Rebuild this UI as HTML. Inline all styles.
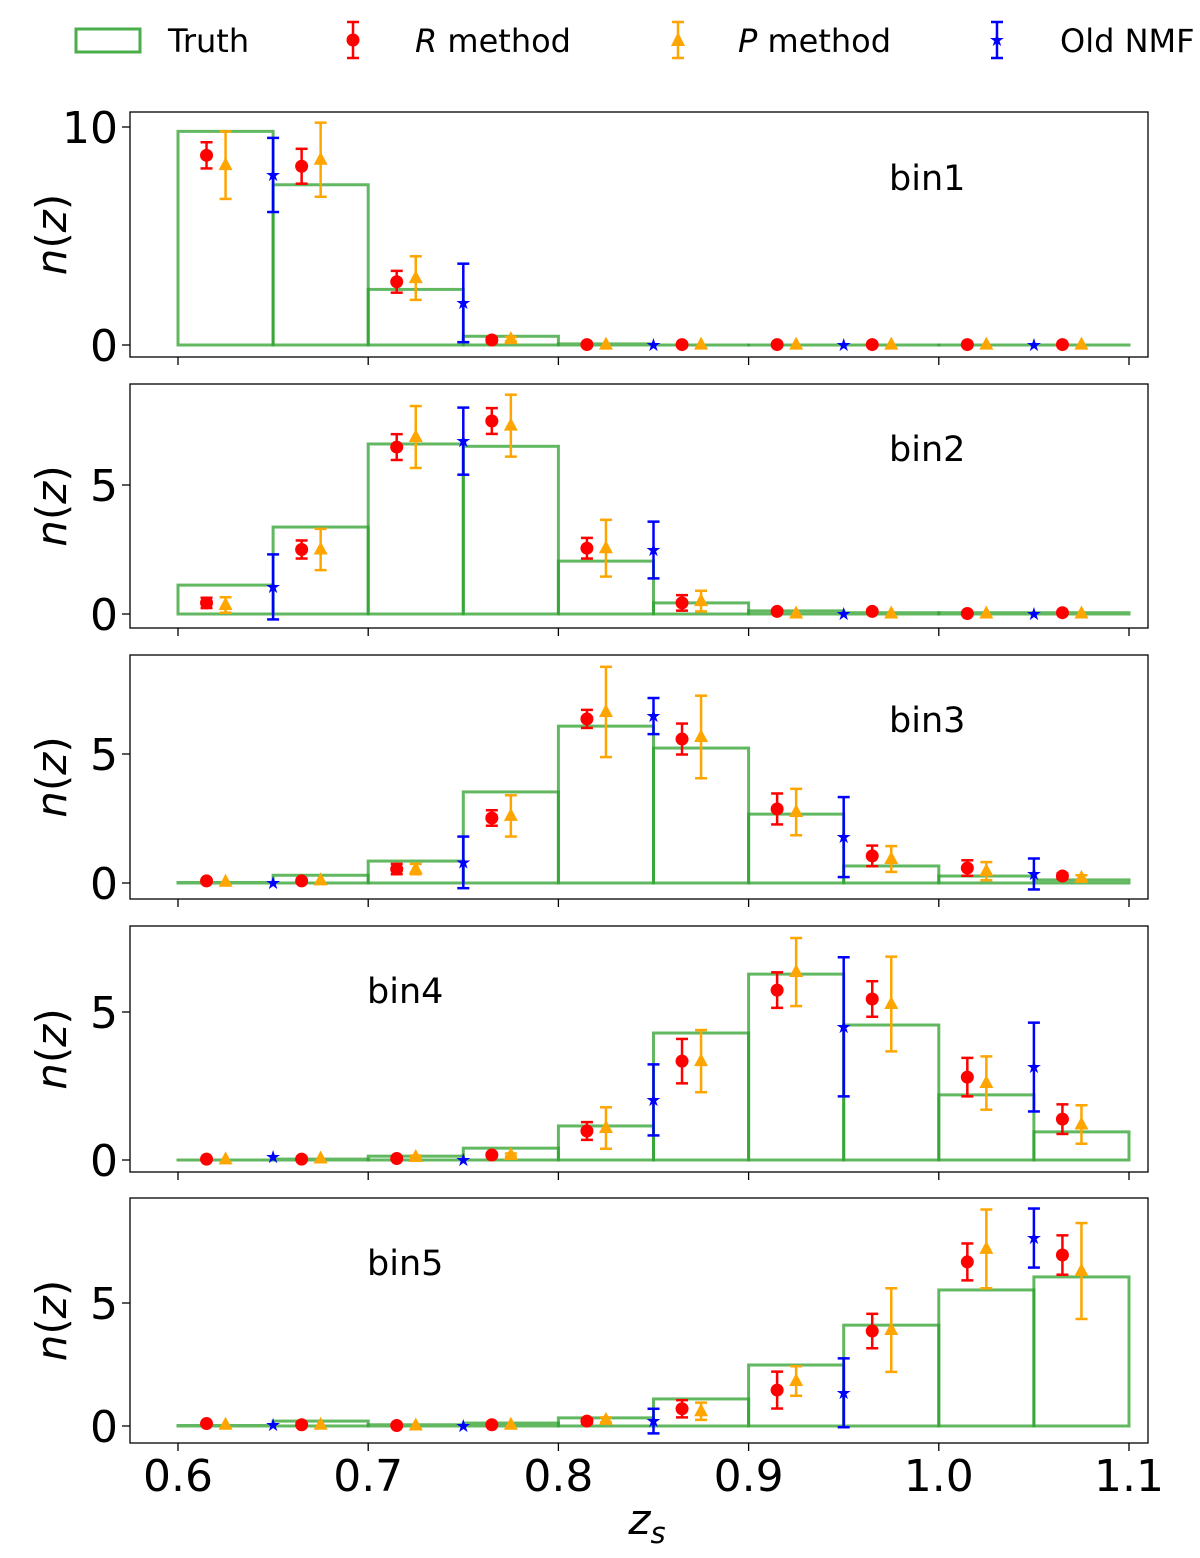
<!DOCTYPE html>
<html><head><meta charset="utf-8"><style>
body{margin:0;background:#fff;}
svg text{font-family:"DejaVu Sans","Liberation Sans",sans-serif;fill:#000;}
</style></head><body>
<svg id="chart" width="1200" height="1553" viewBox="0 0 1200 1553" xmlns="http://www.w3.org/2000/svg">
<g id="legend">
  <g>
    <rect x="76" y="29" width="64" height="23" fill="none" stroke="#2ca02c" stroke-opacity="0.85" stroke-width="3"/>
    <text x="168" y="52" font-size="32">Truth</text>
  </g>
  <g>
    <line x1="353" y1="22" x2="353" y2="58" stroke="red" stroke-width="2.5"/>
    <line x1="347" y1="22" x2="359" y2="22" stroke="red" stroke-width="2.5"/>
    <line x1="347" y1="58" x2="359" y2="58" stroke="red" stroke-width="2.5"/>
    <circle cx="353" cy="40" r="6.5" fill="red"/>
    <text x="415" y="52" font-size="32"><tspan font-style="italic">R</tspan> method</text>
  </g>
  <g>
    <line x1="678" y1="22" x2="678" y2="58" stroke="orange" stroke-width="2.5"/>
    <line x1="672" y1="22" x2="684" y2="22" stroke="orange" stroke-width="2.5"/>
    <line x1="672" y1="58" x2="684" y2="58" stroke="orange" stroke-width="2.5"/>
    <polygon points="678,32 685,46 671,46" fill="orange"/>
    <text x="738" y="52" font-size="32"><tspan font-style="italic">P</tspan> method</text>
  </g>
  <g>
    <line x1="997" y1="22" x2="997" y2="58" stroke="blue" stroke-width="2.5"/>
    <line x1="991" y1="22" x2="1003" y2="22" stroke="blue" stroke-width="2.5"/>
    <line x1="991" y1="58" x2="1003" y2="58" stroke="blue" stroke-width="2.5"/>
    <text x="997" y="46" font-size="18" text-anchor="middle" style="fill:blue">★</text>
    <text x="1060" y="52" font-size="32">Old NMF</text>
  </g>
</g>
<text x="647" y="1534" font-size="42" font-style="italic" text-anchor="middle">z<tspan font-size="29" dy="9">s</tspan></text>
</svg>
<script>
const binEdges=[0.6,0.65,0.7,0.75,0.8,0.85,0.9,0.95,1.0,1.05,1.1];
const rX=[0.615,0.665,0.715,0.765,0.815,0.865,0.915,0.965,1.015,1.065];
const pX=[0.625,0.675,0.725,0.775,0.825,0.875,0.925,0.975,1.025,1.075];
const nX=[0.65,0.75,0.85,0.95,1.05];
const xTicks=[0.6,0.7,0.8,0.9,1.0,1.1];
const xTickLabels=["0.6","0.7","0.8","0.9","1.0","1.1"];
const binNames=["bin1","bin2","bin3","bin4","bin5"];
const truth1=[9.8,7.35,2.55,0.4,0.05,0,0,0,0,0];
const truth2=[1.12,3.37,6.59,6.5,2.05,0.43,0.12,0.05,0.05,0.05];
const truth3=[0.02,0.3,0.85,3.53,6.08,5.23,2.67,0.66,0.27,0.12];
const truth4=[0,0.03,0.13,0.4,1.15,4.29,6.28,4.56,2.2,0.95];
const truth5=[0.02,0.2,0.05,0.12,0.33,1.1,2.48,4.1,5.53,6.06];
const r1=[8.7,8.2,2.9,0.23,0.02,0.02,0.02,0.02,0.02,0.02];
const r1e=[0.6,0.8,0.5,0.1,0,0,0,0,0,0];
const r2=[0.43,2.5,6.47,7.48,2.55,0.43,0.1,0.1,0.02,0.05];
const r2e=[0.2,0.35,0.5,0.5,0.4,0.3,0.05,0.05,0,0];
const r3=[0.08,0.08,0.54,2.52,6.36,5.58,2.87,1.05,0.58,0.27];
const r3e=[0,0,0.2,0.3,0.35,0.6,0.6,0.4,0.3,0.1];
const r4=[0.03,0.03,0.05,0.17,0.98,3.34,5.74,5.44,2.8,1.38];
const r4e=[0,0,0,0.05,0.3,0.75,0.6,0.6,0.65,0.5];
const r5=[0.1,0.05,0.02,0.05,0.2,0.7,1.46,3.86,6.67,6.95];
const r5e=[0,0,0,0,0.1,0.35,0.75,0.7,0.75,0.8];
const p1=[8.25,8.5,3.07,0.27,0.02,0.02,0.02,0.02,0.02,0.02];
const p1e=[1.55,1.7,1.0,0.1,0,0,0,0,0,0];
const p2=[0.35,2.5,6.86,7.3,2.55,0.5,0.02,0.02,0.02,0.02];
const p2e=[0.3,0.8,1.2,1.2,1.1,0.4,0,0,0,0];
const p3=[0.05,0.1,0.54,2.6,6.63,5.66,2.75,0.93,0.46,0.2];
const p3e=[0,0,0.2,0.8,1.75,1.6,0.9,0.5,0.35,0.1];
const p4=[0.02,0.05,0.1,0.17,1.08,3.34,6.35,5.27,2.6,1.2];
const p4e=[0,0,0.05,0.05,0.7,1.05,1.15,1.6,0.9,0.65];
const p5=[0.05,0.05,0.02,0.05,0.25,0.6,1.83,3.9,7.2,6.3];
const p5e=[0,0,0,0,0.1,0.35,0.6,1.7,1.6,1.95];
const n1=[7.8,1.93,0,0,0];
const n1e=[1.7,1.8,0,0,0];
const n2=[1.05,6.7,2.48,0,0];
const n2e=[1.26,1.3,1.1,0,0];
const n3=[0,0.8,6.47,1.78,0.35];
const n3e=[0,1.0,0.7,1.55,0.6];
const n4=[0.1,0,2.03,4.5,3.14];
const n4e=[0,0,1.2,2.35,1.5];
const n5=[0.05,0,0.2,1.35,7.64];
const n5e=[0,0,0.5,1.4,1.2];
const yTicks1=[0,10], yTicks2=[0,5], yTicks3=[0,5], yTicks4=[0,5], yTicks5=[0,5];

const panels=[
 {top:112,bot:357,y0:345,ppu:21.8,t:truth1,r:r1,re:r1e,p:p1,pe:p1e,n:n1,ne:n1e,yt:yTicks1,lx:889,ly:190},
 {top:384,bot:628,y0:614,ppu:25.8,t:truth2,r:r2,re:r2e,p:p2,pe:p2e,n:n2,ne:n2e,yt:yTicks2,lx:889,ly:461},
 {top:655,bot:899,y0:883,ppu:25.8,t:truth3,r:r3,re:r3e,p:p3,pe:p3e,n:n3,ne:n3e,yt:yTicks3,lx:889,ly:732},
 {top:926,bot:1172,y0:1160,ppu:29.6,t:truth4,r:r4,re:r4e,p:p4,pe:p4e,n:n4,ne:n4e,yt:yTicks4,lx:367,ly:1003},
 {top:1198,bot:1443,y0:1426,ppu:24.6,t:truth5,r:r5,re:r5e,p:p5,pe:p5e,n:n5,ne:n5e,yt:yTicks5,lx:367,ly:1275}
];
const NS="http://www.w3.org/2000/svg";
const svg=document.getElementById('chart');
const X=v=>178+(v-0.6)*1902;
function mk(tag,attrs,parent){const e=document.createElementNS(NS,tag);for(const k in attrs)e.setAttribute(k,attrs[k]);parent.appendChild(e);return e;}
function ebar(g,x,y,e,col,yS){
  if(e<=0)return;
  const a=yS(y+e),b=yS(y-e);
  mk('line',{x1:x,y1:a,x2:x,y2:b,stroke:col,'stroke-width':2.5},g);
  mk('line',{x1:x-6,y1:a,x2:x+6,y2:a,stroke:col,'stroke-width':2.5},g);
  mk('line',{x1:x-6,y1:b,x2:x+6,y2:b,stroke:col,'stroke-width':2.5},g);
}
panels.forEach((P,i)=>{
  const yS=v=>P.y0-v*P.ppu;
  const g=mk('g',{},svg);
  
  
  P.t.forEach((v,k)=>{
    const x1=X(binEdges[k]),x2=X(binEdges[k+1]);
    const r=mk('rect',{x:x1,y:yS(v),width:x2-x1,height:Math.max(P.y0-yS(v),0.01),fill:'none',stroke:'#2ca02c','stroke-opacity':0.75,'stroke-width':3},g);
    
    
  });
  P.r.forEach((v,k)=>{
    const x=X(rX[k]);
    const gg=mk('g',{},g);
    
    
    ebar(gg,x,v,P.re[k],'red',yS);
    mk('circle',{cx:x,cy:yS(v),r:6.5,fill:'red'},gg);
  });
  P.p.forEach((v,k)=>{
    const x=X(pX[k]),y=yS(v);
    const gg=mk('g',{},g);
    
    
    ebar(gg,x,v,P.pe[k],'orange',yS);
    mk('polygon',{points:`${x},${y-8} ${x+7},${y+5} ${x-7},${y+5}`,fill:'orange'},gg);
  });
  P.n.forEach((v,k)=>{
    const x=X(nX[k]),y=yS(v);
    const gg=mk('g',{},g);
    
    
    ebar(gg,x,v,P.ne[k],'blue',yS);
    const t=mk('text',{x:x,y:y+6,'font-size':18,'text-anchor':'middle',style:'fill:blue'},gg);
    t.textContent='★';
  });
  const fr=mk('rect',{x:130,y:P.top,width:1018,height:P.bot-P.top,fill:'none',stroke:'#000','stroke-width':1.3},g);
  
  
  P.yt.forEach(v=>{
    const y=yS(v);
    mk('line',{x1:122,y1:y,x2:130,y2:y,stroke:'#000','stroke-width':1.3},g);
    const t=mk('text',{x:118,y:y+16,'font-size':44,'text-anchor':'end'},g);
    
    
    t.textContent=String(v);
  });
  xTicks.forEach((v,k)=>{
    const x=X(v);
    mk('line',{x1:x,y1:P.bot,x2:x,y2:P.bot+8,stroke:'#000','stroke-width':1.3},g);
    if(i===4){
      const t=mk('text',{x:x,y:1491,'font-size':44,'text-anchor':'middle'},g);
      
      
      t.textContent=xTickLabels[k];
    }
  });
  const cy=(P.top+P.bot)/2;
  const yl=mk('text',{x:0,y:0,'font-size':42,'text-anchor':'middle',transform:`translate(66,${cy}) rotate(-90)`},g);
  
  
  yl.innerHTML='<tspan font-style="italic">n</tspan>(<tspan font-style="italic">z</tspan>)';
  const bl=mk('text',{x:P.lx,y:P.ly,'font-size':35},g);
  
  
  bl.textContent=binNames[i];
});
</script>
</body></html>
